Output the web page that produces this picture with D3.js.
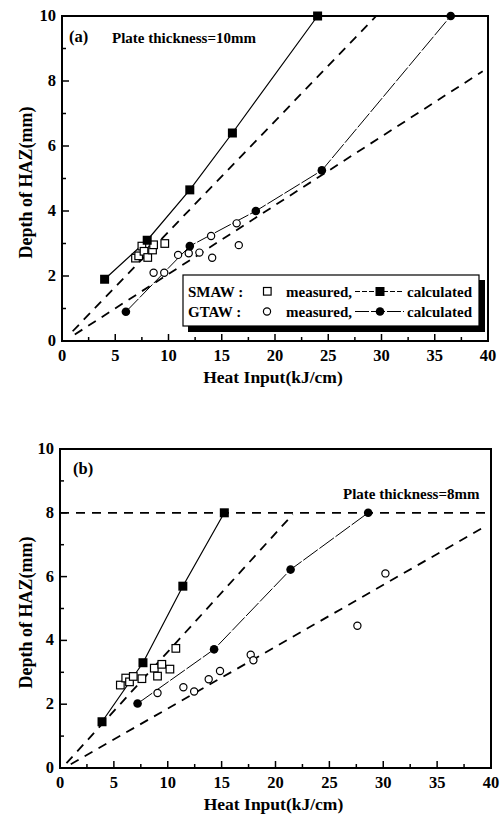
<!DOCTYPE html>
<html>
<head>
<meta charset="utf-8">
<script src="https://cdn.jsdelivr.net/npm/d3@7"></script>
<style>
  body { margin: 0; background: #fff; }
  svg { display: block; }
  text { font-family: "Liberation Serif", "Times New Roman", serif; font-weight: bold; fill: #000; }
</style>
</head>
<body>
<svg id="chart" width="504" height="816"></svg>
<script>
// ---- panel (a): plate thickness 10 mm ----
const smawCalcA = [[4, 1.9], [8, 3.1], [12, 4.65], [16, 6.4], [24, 10]];
const gtawCalcA = [[6, 0.9], [12, 2.92], [18.2, 4.0], [24.4, 5.25], [36.5, 10]];
const smawMeasA = [[6.9, 2.55], [7.2, 2.62], [7.5, 2.92], [7.7, 2.76], [8.05, 2.57], [8.5, 2.8], [8.6, 2.96], [9.65, 3.0]];
const gtawMeasA = [[8.6, 2.1], [9.6, 2.1], [10.9, 2.65], [11.9, 2.7], [12.9, 2.72], [14.0, 3.23], [14.1, 2.56], [16.4, 3.62], [16.6, 2.95]];
const fitSmawA = [[1.0, 0.3], [29.5, 10]];
const fitGtawA = [[1.2, 0.2], [39.5, 8.3]];

// ---- panel (b): plate thickness 8 mm ----
const smawCalcB = [[3.9, 1.45], [7.7, 3.3], [11.4, 5.7], [15.25, 8.0]];
const gtawCalcB = [[7.2, 2.02], [14.3, 3.72], [21.4, 6.22], [28.6, 8.0]];
const smawMeasB = [[5.6, 2.6], [6.1, 2.82], [6.45, 2.7], [6.8, 2.87], [7.6, 2.8], [8.75, 3.13], [9.05, 2.88], [9.45, 3.25], [10.2, 3.1], [10.75, 3.75]];
const gtawMeasB = [[9.05, 2.35], [11.45, 2.53], [12.45, 2.4], [13.8, 2.78], [14.85, 3.04], [17.7, 3.55], [17.95, 3.38], [27.6, 4.46], [30.2, 6.1]];
const fitSmawB = [[0.6, 0.15], [21.6, 7.95]];
const fitGtawB = [[1.0, 0.12], [39.6, 7.6]];
const plateLineB = [[0, 8], [40, 8]];

const xTicks = [0, 5, 10, 15, 20, 25, 30, 35, 40];
const yTicks = [0, 2, 4, 6, 8, 10];

const svg = d3.select("#chart");
const line = d3.line().x(d => d[0]).y(d => d[1]);

function drawPanel(p) {
  const x = d3.scaleLinear().domain([0, 40]).range([p.left, p.right]);
  const y = d3.scaleLinear().domain([0, 10]).range([p.bottom, p.top]);
  const g = svg.append("g");
  const pt = d => [x(d[0]), y(d[1])];

  // minor + major ticks, inward
  const xMinor = d3.range(0, 40.01, 2.5);
  const yMinor = d3.range(0, 10.01, 1);
  g.selectAll(".xt").data(xMinor).enter().append("line")
    .attr("x1", d => x(d)).attr("x2", d => x(d))
    .attr("y1", p.bottom).attr("y2", d => p.bottom - (d % 5 === 0 ? 7 : 4))
    .attr("stroke", "#000").attr("stroke-width", 1.5);
  g.selectAll(".yt").data(yMinor).enter().append("line")
    .attr("y1", d => y(d)).attr("y2", d => y(d))
    .attr("x1", p.left).attr("x2", d => p.left + (d % 2 === 0 ? 7 : 4))
    .attr("stroke", "#000").attr("stroke-width", 1.5);

  // frame
  g.append("rect")
    .attr("x", p.left).attr("y", p.top)
    .attr("width", p.right - p.left).attr("height", p.bottom - p.top)
    .attr("fill", "none").attr("stroke", "#000").attr("stroke-width", 2);

  // tick labels
  g.selectAll(".xl").data(xTicks).enter().append("text")
    .attr("x", d => x(d)).attr("y", p.bottom + 20)
    .attr("text-anchor", "middle").attr("font-size", 16.5).text(d => d);
  g.selectAll(".yl").data(yTicks).enter().append("text")
    .attr("x", p.left - 6).attr("y", d => y(d) + 5)
    .attr("text-anchor", "end").attr("font-size", 16.5).text(d => d);

  // axis titles
  g.append("text").attr("x", (p.left + p.right) / 2 - 2).attr("y", p.bottom + 42)
    .attr("text-anchor", "middle").attr("font-size", 17.5).text("Heat Input(kJ/cm)");
  g.append("text")
    .attr("transform", `translate(32,${(p.top + p.bottom) / 2 + 4}) rotate(-90)`)
    .attr("text-anchor", "middle").attr("font-size", 18).text("Depth of HAZ(mm)");

  // dashed fit lines
  p.fits.forEach(f => {
    g.append("path").attr("d", line(f.map(pt)))
      .attr("fill", "none").attr("stroke", "#000").attr("stroke-width", 1.8)
      .attr("stroke-dasharray", "9,7");
  });

  // calculated lines
  g.append("path").attr("d", line(p.smawCalc.map(pt)))
    .attr("fill", "none").attr("stroke", "#000").attr("stroke-width", 1.2);
  g.append("path").attr("d", line(p.gtawCalc.map(pt)))
    .attr("fill", "none").attr("stroke", "#000").attr("stroke-width", 1)
    .attr("stroke-dasharray", "18,2");

  // measured markers
  g.selectAll(".ms").data(p.smawMeas).enter().append("rect")
    .attr("x", d => x(d[0]) - 3.8).attr("y", d => y(d[1]) - 3.8)
    .attr("width", 7.6).attr("height", 7.6)
    .attr("fill", "#fff").attr("stroke", "#000").attr("stroke-width", 1.2);
  g.selectAll(".mg").data(p.gtawMeas).enter().append("circle")
    .attr("cx", d => x(d[0])).attr("cy", d => y(d[1])).attr("r", 3.6)
    .attr("fill", "#fff").attr("stroke", "#000").attr("stroke-width", 1.2);

  // calculated markers
  g.selectAll(".cs").data(p.smawCalc).enter().append("rect")
    .attr("x", d => x(d[0]) - 4.5).attr("y", d => y(d[1]) - 4.5)
    .attr("width", 9).attr("height", 9).attr("fill", "#000");
  g.selectAll(".cg").data(p.gtawCalc).enter().append("circle")
    .attr("cx", d => x(d[0])).attr("cy", d => y(d[1])).attr("r", 4.3)
    .attr("fill", "#000");

  g.append("text").attr("x", p.labelX).attr("y", p.labelY)
    .attr("font-size", 16.5).text(p.label);
  g.append("text").attr("x", p.noteX).attr("y", p.noteY)
    .attr("font-size", 15).text(p.note);
  return { g, x, y };
}

const a = drawPanel({
  left: 62, right: 488, top: 16, bottom: 341,
  smawCalc: smawCalcA, gtawCalc: gtawCalcA, smawMeas: smawMeasA, gtawMeas: gtawMeasA,
  fits: [fitSmawA, fitGtawA],
  label: "(a)", labelX: 69, labelY: 42,
  note: "Plate thickness=10mm", noteX: 112, noteY: 43
});

const b = drawPanel({
  left: 60, right: 491, top: 449, bottom: 768,
  smawCalc: smawCalcB, gtawCalc: gtawCalcB, smawMeas: smawMeasB, gtawMeas: gtawMeasB,
  fits: [fitSmawB, fitGtawB, plateLineB],
  label: "(b)", labelX: 73, labelY: 474,
  note: "Plate thickness=8mm", noteX: 343, noteY: 499
});

// ---- legend of panel (a) ----
const lg = a.g.append("g");
lg.append("rect").attr("x", 188).attr("y", 280).attr("width", 297).attr("height", 52).attr("fill", "#000");
lg.append("rect").attr("x", 183).attr("y", 275).attr("width", 296).attr("height", 51)
  .attr("fill", "#fff").attr("stroke", "#000").attr("stroke-width", 1.2);
const rows = [
  { name: "SMAW :", y: 297, open: "square", dash: "5,2" },
  { name: "GTAW :", y: 317, open: "circle", dash: "14,2" }
];
rows.forEach(r => {
  lg.append("text").attr("x", 188).attr("y", r.y).attr("font-size", 15).text(r.name);
  if (r.open === "square") {
    lg.append("rect").attr("x", 263.5).attr("y", r.y - 9.5).attr("width", 7.6).attr("height", 7.6)
      .attr("fill", "#fff").attr("stroke", "#000").attr("stroke-width", 1.2);
    lg.append("rect").attr("x", 375.5).attr("y", r.y - 10).attr("width", 9).attr("height", 9).attr("fill", "#000");
  } else {
    lg.append("circle").attr("cx", 267).attr("cy", r.y - 5.5).attr("r", 3.6)
      .attr("fill", "#fff").attr("stroke", "#000").attr("stroke-width", 1.2);
    lg.append("circle").attr("cx", 380).attr("cy", r.y - 5.5).attr("r", 4.3).attr("fill", "#000");
  }
  lg.append("line").attr("x1", 355).attr("x2", 404).attr("y1", r.y - 5.5).attr("y2", r.y - 5.5)
    .attr("stroke", "#000").attr("stroke-width", 1).attr("stroke-dasharray", r.dash);
  lg.append("text").attr("x", 286).attr("y", r.y).attr("font-size", 15).text("measured,");
  lg.append("text").attr("x", 407).attr("y", r.y).attr("font-size", 15).text("calculated");
});
</script>
</body>
</html>
